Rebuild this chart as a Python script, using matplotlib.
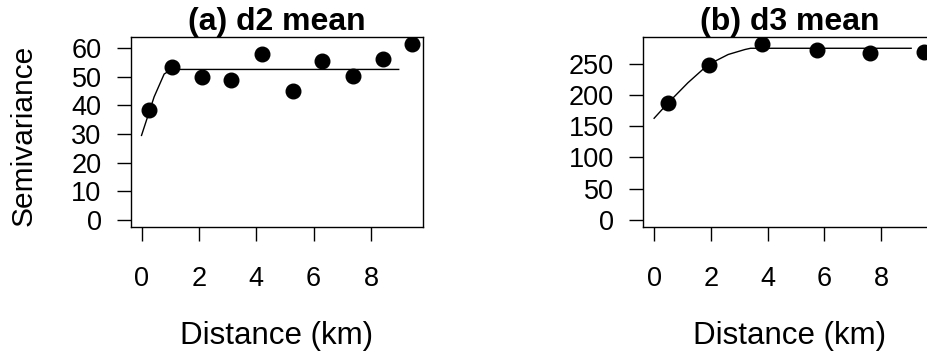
import matplotlib
matplotlib.use("Agg")
import matplotlib.pyplot as plt

plt.rcParams['font.family'] = ['Liberation Sans', 'DejaVu Sans']

# ---- data: (a) d2 mean ----
dist_a = [0.27, 1.05, 2.12, 3.13, 4.20, 5.28, 6.28, 7.37, 8.42, 9.43]
gamma_a = [38.3, 53.5, 49.8, 48.9, 58.0, 45.1, 55.6, 50.4, 56.2, 61.6]
fit_x_a = [0.0, 0.44, 0.79, 1.05, 8.97]
fit_y_a = [29.5, 43.0, 51.0, 52.6, 52.6]

# ---- data: (b) d3 mean ----
dist_b = [0.50, 1.92, 3.79, 5.73, 7.61, 9.53]
gamma_b = [187.6, 248.0, 282.8, 272.6, 268.2, 269.4]
fit_x_b = [0.0, 0.48, 1.19, 1.90, 2.61, 3.20, 3.40, 9.06]
fit_y_b = [163.0, 187.0, 220.0, 249.0, 265.5, 273.5, 275.5, 275.5]

titles = ['(a) d2 mean', '(b) d3 mean']
yticks_a = [0, 10, 20, 30, 40, 50, 60]
yticks_b = [0, 50, 100, 150, 200, 250]
xticks = [0, 2, 4, 6, 8]

W, H = 928, 352
fig = plt.figure(figsize=(W / 100, H / 100), dpi=100)

ax_w = 292 / W
ax_h = 190 / H
ax_bottom = 1 - 226.7 / H
axa = fig.add_axes([130.7 / W, ax_bottom, ax_w, ax_h])
axb = fig.add_axes([643.3 / W, ax_bottom, ax_w, ax_h])

panels = [
    (axa, dist_a, gamma_a, fit_x_a, fit_y_a, yticks_a),
    (axb, dist_b, gamma_b, fit_x_b, fit_y_b, yticks_b),
]

for i, (ax, dx, gy, fx, fy, yt) in enumerate(panels):
    ax.plot(dx, gy, 'o', color='black', markersize=10.5)
    ax.plot(fx, fy, '-', color='black', linewidth=1.0)

    # R-style 4% padding around [0, max]
    xmax = max(dx)
    ymax = max(gy)
    ax.set_xlim(-0.04 * xmax, 1.04 * xmax)
    ax.set_ylim(-0.04 * ymax, 1.04 * ymax)

    ax.set_xticks(xticks)
    ax.set_yticks(yt)
    ax.tick_params(axis='both', direction='out', length=10, width=1.0,
                   labelsize=19.5, colors='black')
    ax.tick_params(axis='x', pad=18)
    ax.tick_params(axis='y', pad=11)
    for s in ax.spines.values():
        s.set_linewidth(1.0)

    ax.set_title(titles[i], fontsize=23, fontweight='bold', pad=-1)

    xl = ax.set_xlabel('Distance (km)', fontsize=22.5)
    xl.set_va('baseline')
    ax.xaxis.set_label_coords(0.5, -0.617)

axa.set_ylabel('Semivariance', fontsize=21.5, va='center')
axa.yaxis.set_label_coords(-0.368, 0.48)

fig.savefig('out.png', dpi=100)
